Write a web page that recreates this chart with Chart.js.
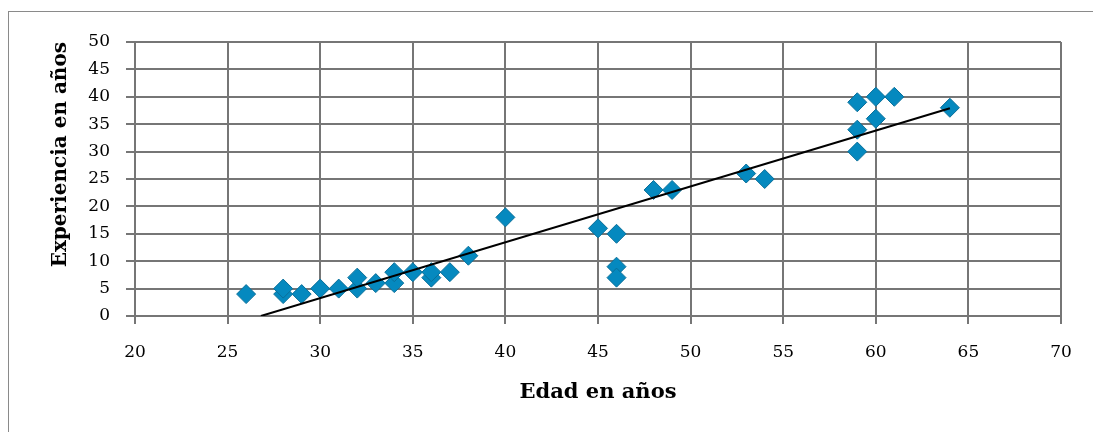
<!DOCTYPE html>
<html>
<head>
  <title>Edad vs Experiencia</title>
  <meta charset="UTF-8">
  <script src="https://cdn.jsdelivr.net/npm/chart.js"></script>
  <style>
    html, body {
      margin: 0;
      padding: 0;
      background: #ffffff;
      overflow: hidden;
    }
    .frame {
      position: absolute;
      left: 8px;
      top: 11px;
      width: 1200px;
      height: 600px;
      border: 1.5px solid #8a8a8a;
    }
    .chart-box {
      position: absolute;
      left: 0;
      top: 0;
      width: 1093px;
      height: 432px;
    }
  </style>
</head>
<body>
  <div class="frame"></div>
  <div class="chart-box">
    <canvas id="scatterChart" width="1093" height="432"></canvas>
  </div>

  <script>
    // Edad (x) y experiencia (y)
    const edad = [26, 28, 28, 29, 30, 31, 32, 32, 33, 34, 34, 35, 36, 36, 37, 38,
                  40, 45, 46, 46, 46, 48, 49, 53, 54, 59, 59, 59, 60, 60, 61, 64];
    const experiencia = [4, 4, 5, 4, 5, 5, 5, 7, 6, 6, 8, 8, 7, 8, 8, 11,
                         18, 16, 15, 9, 7, 23, 23, 26, 25, 39, 34, 30, 40, 36, 40, 38];

    // Linear trendline end points, as seen in the picture
    const trendX = [26.8, 64];
    const trendY = [0, 37.9];

    // Axis ranges / tick steps
    const xTicks = [20, 70, 5];
    const yTicks = [0, 50, 5];

    const gridColor = '#767676';
    const tickFont = { family: '"DejaVu Serif", serif', size: 17 };
    const titleFont = { family: '"DejaVu Serif", serif', size: 20, weight: 'bold' };

    const ctx = document.getElementById('scatterChart').getContext('2d');
    new Chart(ctx, {
      type: 'scatter',
      data: {
        datasets: [
          {
            label: 'Experiencia',
            data: edad.map((x, i) => ({ x: x, y: experiencia[i] })),
            pointStyle: 'rectRot',
            pointRadius: 9.5,
            pointHoverRadius: 9.5,
            backgroundColor: '#0589bf',
            borderColor: '#0b6f99',
            borderWidth: 1,
            order: 2
          },
          {
            label: 'Tendencia',
            type: 'line',
            data: trendX.map((x, i) => ({ x: x, y: trendY[i] })),
            borderColor: '#000000',
            borderWidth: 2,
            pointRadius: 0,
            fill: false,
            order: 1
          }
        ]
      },
      options: {
        responsive: false,
        animation: false,
        layout: {
          padding: { left: 45, right: 32, top: 42, bottom: 0 }
        },
        plugins: {
          legend: { display: false },
          tooltip: { enabled: false }
        },
        scales: {
          x: {
            type: 'linear',
            min: xTicks[0],
            max: xTicks[1],
            afterFit: function(scale) { scale.height = 116; },
            ticks: {
              stepSize: xTicks[2],
              color: '#000000',
              font: tickFont,
              padding: 18,
              maxRotation: 0
            },
            grid: {
              color: gridColor,
              lineWidth: 2,
              tickLength: 8,
              tickColor: gridColor
            },
            border: { color: gridColor, width: 2 },
            title: {
              display: true,
              text: 'Edad en años',
              color: '#000000',
              font: { family: '"DejaVu Serif", serif', size: 21, weight: 'bold' },
              padding: { top: 0, bottom: 27 }
            }
          },
          y: {
            type: 'linear',
            min: yTicks[0],
            max: yTicks[1],
            afterFit: function(scale) { scale.width = 90; },
            ticks: {
              stepSize: yTicks[2],
              color: '#000000',
              font: tickFont,
              padding: 16
            },
            grid: {
              color: gridColor,
              lineWidth: 2,
              tickLength: 9,
              tickColor: gridColor
            },
            border: { color: gridColor, width: 2 },
            title: {
              display: true,
              text: 'Experiencia en años',
              align: 'end',
              color: '#000000',
              font: titleFont,
              padding: { top: 4, bottom: 4 }
            }
          }
        }
      }
    });
  </script>
</body>
</html>
